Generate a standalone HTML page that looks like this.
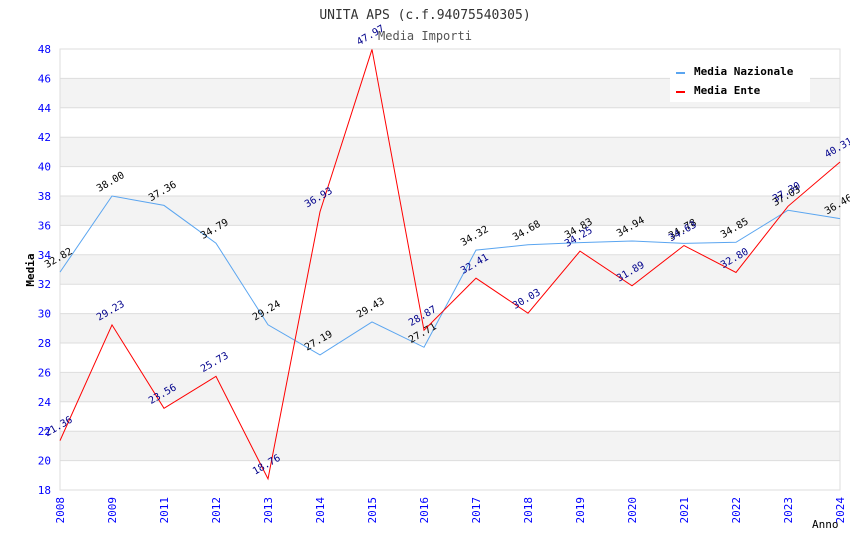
<!DOCTYPE html>
<html><head><meta charset="utf-8"><style>
body{margin:0;background:#fff}
svg{font-family:"DejaVu Sans Mono","Liberation Mono",monospace}
</style></head><body>
<svg id="c" width="850" height="550">
<text x="425" y="19" text-anchor="middle" font-size="13" fill="#333">UNITA APS (c.f.94075540305)</text>
<text x="425" y="40" text-anchor="middle" font-size="12" fill="#555">Media Importi</text>
<g id="bands"></g><g id="grid"></g><g id="axes"></g><g id="series"></g>
<g>
<rect x="670" y="60" width="140" height="42" fill="#fff"/>
<rect x="676" y="72" width="9" height="2" fill="#5aa5f0"/>
<text x="694" y="75" font-size="11" font-weight="bold" fill="#000">Media Nazionale</text>
<rect x="676" y="91" width="9" height="2" fill="#f00"/>
<text x="694" y="94" font-size="11" font-weight="bold" fill="#000">Media Ente</text>
</g>
<text x="812" y="528" font-size="11" fill="#000">Anno</text>
<text x="34" y="270" font-size="11" font-weight="bold" fill="#000" transform="rotate(-90 34 270)" text-anchor="middle">Media</text>
</svg>
<script>
const categories=["2008","2009","2011","2012","2013","2014","2015","2016","2017","2018","2019","2020","2021","2022","2023","2024"];
const nazionale=[32.82,38.00,37.36,34.79,29.24,27.19,29.43,27.71,34.32,34.68,34.83,34.94,34.78,34.85,37.03,36.46];
const ente=[21.36,29.23,23.56,25.73,18.76,36.93,47.97,28.87,32.41,30.03,34.25,31.89,34.63,32.80,37.30,40.31];
const yTicks=[18,20,22,24,26,28,30,32,34,36,38,40,42,44,46,48];
const NS="http://www.w3.org/2000/svg";
const L=60,R=840,T=49,B=490,yMin=18,yMax=48;
const xs=i=>L+i*(R-L)/(categories.length-1);
const ys=v=>B-(v-yMin)/(yMax-yMin)*(B-T);
function mk(tag,at,parent){const e=document.createElementNS(NS,tag);for(const k in at)e.setAttribute(k,at[k]);document.getElementById(parent).appendChild(e);return e;}
for(let i=0;i<yTicks.length-1;i++){
 if((yTicks[i]-20)%4===0){const r=mk('rect',{x:L,y:ys(yTicks[i+1]),width:R-L,height:ys(yTicks[i])-ys(yTicks[i+1]),fill:'#f3f3f3'},'bands');
 
 }
}
yTicks.forEach(t=>{
 const l=mk('line',{x1:L,x2:R,y1:ys(t),y2:ys(t),stroke:'#ddd'},'grid');
 
 
 const tx=mk('text',{x:51,y:ys(t)+4,'text-anchor':'end','font-size':11,fill:'#00f'},'axes');tx.textContent=t;
 
 
});
mk('rect',{x:L,y:T,width:R-L,height:B-T,fill:'none',stroke:'#ddd'},'grid');
categories.forEach((c,i)=>{
 const tx=mk('text',{x:xs(i)+4,y:B+7,'text-anchor':'end','font-size':11,fill:'#00f',transform:`rotate(-90 ${xs(i)+4} ${B+7})`},'axes');tx.textContent=c;
 
 
});
function series(vals,color,lblColor,name){
 const p=mk('polyline',{points:vals.map((v,i)=>xs(i)+','+ys(v)).join(' '),fill:'none',stroke:color,'stroke-width':1},'series');
 
 
 vals.forEach((v,i)=>{
  const x=xs(i)-13,y=ys(v)-4;
  const t=mk('text',{x:x,y:y,'font-size':10,fill:lblColor,transform:`rotate(-30 ${x} ${y})`},'series');t.textContent=v.toFixed(2);
  
  
 });
}
series(nazionale,'#5aa5f0','#000','nazionale');
series(ente,'#f00','#00008b','ente');
</script>
</body></html>
